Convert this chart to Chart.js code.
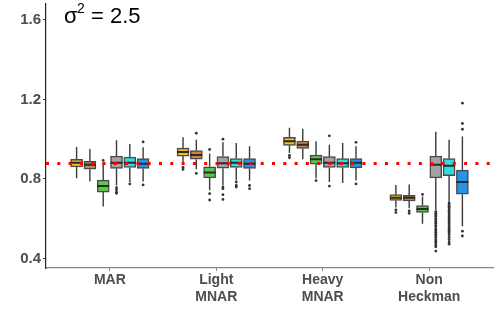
<!DOCTYPE html>
<html>
<head>
<meta charset="utf-8">
<script src="https://cdn.jsdelivr.net/npm/chart.js@4"></script>
<style>
  body { margin: 0; background: #fff; }
  #wrap { width: 498px; height: 326px; position: relative; }
</style>
</head>
<body>
<div id="wrap"><canvas id="boxChart"></canvas></div>
<script>
// groups on the x axis
const groups = [['MAR'], ['Light', 'MNAR'], ['Heavy', 'MNAR'], ['Non', 'Heckman']];
const yTicks = [0.4, 0.8, 1.2, 1.6];
const refLine = 0.878;

// box stats per group: [lower whisker, q1, median, q3, upper whisker]
const goldStats = [[0.803, 0.861, 0.881, 0.899, 0.961], [0.874, 0.915, 0.935, 0.955, 1.010], [0.931, 0.969, 0.989, 1.009, 1.058], [0.656, 0.692, 0.706, 0.721, 0.770]];
const orangeStats = [[0.787, 0.849, 0.872, 0.889, 0.951], [0.849, 0.899, 0.920, 0.943, 0.997], [0.899, 0.953, 0.972, 0.991, 1.053], [0.652, 0.689, 0.705, 0.718, 0.772]];
const greenStats = [[0.661, 0.734, 0.764, 0.794, 0.882], [0.743, 0.805, 0.833, 0.861, 0.928], [0.803, 0.874, 0.899, 0.920, 0.989], [0.574, 0.631, 0.649, 0.666, 0.712]];
const grayStats = [[0.767, 0.853, 0.882, 0.915, 0.994], [0.767, 0.854, 0.879, 0.913, 0.984], [0.784, 0.858, 0.882, 0.912, 0.972], [0.644, 0.805, 0.871, 0.915, 1.038]];
const cyanStats = [[0.784, 0.858, 0.882, 0.910, 0.976], [0.792, 0.858, 0.881, 0.903, 0.981], [0.780, 0.858, 0.879, 0.902, 0.981], [0.685, 0.817, 0.866, 0.902, 0.997]];
const blueStats = [[0.787, 0.853, 0.877, 0.902, 0.960], [0.792, 0.853, 0.877, 0.902, 0.965], [0.792, 0.856, 0.881, 0.902, 0.965], [0.562, 0.723, 0.784, 0.844, 1.014]];

// outliers: [group index, value]
const goldOut = [[1, 0.858], [1, 0.848], [2, 0.918], [2, 0.907], [3, 0.644], [3, 0.631]];
const orangeOut = [[1, 1.030], [1, 0.828], [3, 0.639], [3, 0.627]];
const greenOut = [[0, 0.893], [1, 0.948], [1, 0.726], [1, 0.694], [2, 0.792], [3, 0.722]];
const grayOut = [[0, 0.756], [0, 0.746], [0, 0.734], [0, 0.728], [1, 1.000], [1, 0.759], [1, 0.751], [1, 0.721], [1, 0.697],
  [2, 1.017], [2, 0.764],
  [3, 0.636], [3, 0.628], [3, 0.619], [3, 0.612], [3, 0.601], [3, 0.594], [3, 0.585], [3, 0.577], [3, 0.566], [3, 0.559],
  [3, 0.548], [3, 0.541], [3, 0.532], [3, 0.522], [3, 0.513], [3, 0.505], [3, 0.494], [3, 0.486], [3, 0.478], [3, 0.468],
  [3, 0.459], [3, 0.437]];
const cyanOut = [[0, 0.775], [1, 0.784], [1, 0.767], [1, 0.759],
  [3, 0.679], [3, 0.671], [3, 0.662], [3, 0.655], [3, 0.646], [3, 0.637], [3, 0.629], [3, 0.618], [3, 0.610], [3, 0.601],
  [3, 0.592], [3, 0.583], [3, 0.574], [3, 0.566], [3, 0.556], [3, 0.547], [3, 0.537], [3, 0.528], [3, 0.519], [3, 0.506],
  [3, 0.495], [3, 0.483], [3, 0.472]];
const blueOut = [[0, 0.986], [0, 0.770], [1, 0.767], [1, 0.751], [2, 0.984], [2, 0.775], [3, 1.050], [3, 1.079], [3, 1.181], [3, 0.537], [3, 0.513]];

const series = [
  { stats: goldStats, out: goldOut, color: '#F2C21B' },
  { stats: orangeStats, out: orangeOut, color: '#CC8640' },
  { stats: greenStats, out: greenOut, color: '#5CC94A' },
  { stats: grayStats, out: grayOut, color: '#A3A3A3' },
  { stats: cyanStats, out: cyanOut, color: '#2FDDDD' },
  { stats: blueStats, out: blueOut, color: '#2495E6' }
];

const dodge = 0.125;
const halfBox = 0.056;

const datasets = [];
const whiskerPts = [];
const medianPts = [];
const outlierPts = [];

series.forEach((s, k) => {
  const off = (k - 2.5) * dodge;
  datasets.push({
    type: 'bar',
    data: s.stats.map((st, g) => ({ x: g + off, y: [st[1], st[3]] })),
    backgroundColor: s.color,
    borderColor: '#4a4a4a',
    borderWidth: 1.5,
    borderSkipped: false,
    barThickness: 12,
    grouped: false,
    order: 5
  });
  s.stats.forEach((st, g) => {
    const c = g + off;
    whiskerPts.push({ x: c, y: st[3] }, { x: c, y: st[4] }, { x: c, y: null });
    whiskerPts.push({ x: c, y: st[0] }, { x: c, y: st[1] }, { x: c, y: null });
    medianPts.push({ x: c - halfBox, y: st[2] }, { x: c + halfBox, y: st[2] }, { x: c, y: null });
  });
  s.out.forEach(o => outlierPts.push({ x: o[0] + off, y: o[1] }));
});

datasets.push({
  type: 'line', data: whiskerPts, borderColor: '#3a3a3a', borderWidth: 1.4,
  pointRadius: 0, spanGaps: false, order: 8
});
datasets.push({
  type: 'line', data: medianPts, borderColor: '#2a2a2a', borderWidth: 2,
  pointRadius: 0, spanGaps: false, order: 4
});
datasets.push({
  type: 'scatter', data: outlierPts, backgroundColor: '#333', borderWidth: 0,
  pointRadius: 1.4, order: 6
});
datasets.push({
  type: 'line', data: [{ x: -0.6, y: refLine }, { x: 3.6, y: refLine }],
  borderColor: '#FF0000', borderWidth: 3, borderDash: [3, 8.3], borderCapStyle: 'butt',
  pointRadius: 0, order: 1
});

const titlePlugin = {
  id: 'sigmaTitle',
  afterDraw(chart) {
    const ctx = chart.ctx;
    ctx.save();
    ctx.fillStyle = '#000';
    ctx.textBaseline = 'alphabetic';
    ctx.font = '22px "Liberation Sans", Arial, sans-serif';
    ctx.fillText('σ', 64, 23);
    ctx.font = '14px "Liberation Sans", Arial, sans-serif';
    ctx.fillText('2', 77, 13);
    ctx.font = '22px "Liberation Sans", Arial, sans-serif';
    ctx.fillText('= 2.5', 91, 23);
    ctx.restore();
  }
};

new Chart(document.getElementById('boxChart'), {
  type: 'bar',
  data: { datasets: datasets },
  options: {
    responsive: true,
    maintainAspectRatio: false,
    animation: false,
    layout: { padding: { top: 0, right: 5, left: 0, bottom: 0 } },
    plugins: { legend: { display: false }, tooltip: { enabled: false } },
    scales: {
      x: {
        type: 'linear',
        offset: false,
        min: -0.6,
        max: 3.6,
        afterBuildTicks: scale => { scale.ticks = groups.map((g, i) => ({ value: i })); },
        afterFit: scale => { scale.height = 58; scale.paddingLeft = 0; scale.paddingRight = 0; },
        ticks: {
          autoSkip: false,
          maxRotation: 0,
          padding: 1,
          color: '#4d4d4d',
          font: { family: '"Liberation Sans", Arial, sans-serif', size: 14, weight: 'bold', lineHeight: 1.2 },
          callback: (v, i) => groups[i]
        },
        grid: { offset: false, drawOnChartArea: false, drawTicks: true, tickLength: 3, color: '#888' },
        border: { display: true, color: '#888', width: 1.2 }
      },
      y: {
        min: 0.352,
        max: 1.68,
        afterBuildTicks: scale => { scale.ticks = yTicks.map(v => ({ value: v })); },
        afterFit: scale => { scale.width = 46; scale.paddingTop = 0; scale.paddingBottom = 0; },
        ticks: {
          padding: 2,
          color: '#4d4d4d',
          font: { family: '"Liberation Sans", Arial, sans-serif', size: 15, weight: 'bold' },
          callback: v => v.toFixed(1)
        },
        grid: { drawOnChartArea: false, drawTicks: true, tickLength: 3, color: '#333' },
        border: { display: true, color: '#222', width: 1.2 }
      }
    }
  },
  plugins: [titlePlugin]
});
</script>
</body>
</html>
